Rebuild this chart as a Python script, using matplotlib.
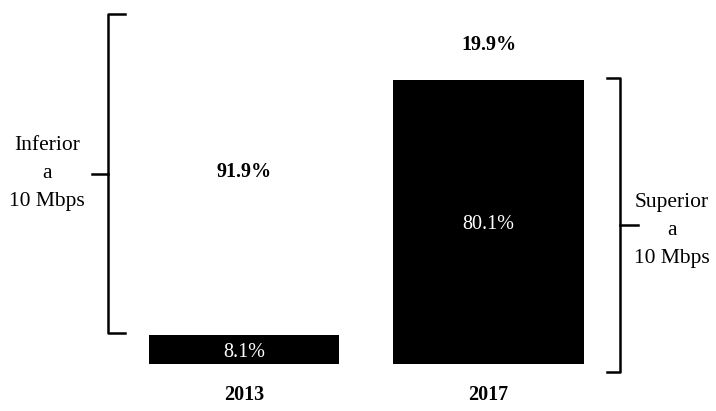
import matplotlib.pyplot as plt

years = ['2013', '2017']
superior = [8.1, 80.1]   # black part, > 10 Mbps
inferior = [91.9, 19.9]  # white part, < 10 Mbps

plt.rcParams['font.family'] = ['Liberation Serif', 'DejaVu Serif']

fig = plt.figure(figsize=(7.16, 4.11), dpi=100)
ax = fig.add_axes([0, 0, 1, 1])
ax.set_xlim(-0.998, 1.93)
ax.set_ylim(-13.25, 102.65)
ax.axis('off')

x = [0, 1]
w = 0.78
ax.bar(x, superior, width=w, color='black')
ax.bar(x, inferior, width=w, bottom=superior, color='white')

for i in range(2):
    ax.text(x[i], superior[i] / 2 - 0.8, f'{superior[i]}%', ha='center', va='center',
            color='white', fontsize=14.5)
    ax.text(x[i], superior[i] + inferior[i] / 2, f'{inferior[i]}%', ha='center',
            va='center', color='black', fontsize=14.5, fontweight='bold')
    ax.text(x[i], -8.6, years[i], ha='center', va='center', fontsize=14.5,
            fontweight='bold')


def brace(xv, y0, y1, arm, tip, ymid=None):
    if ymid is None:
        ymid = (y0 + y1) / 2
    ax.plot([xv + arm, xv, xv, xv + arm], [y1, y1, y0, y0], color='black',
            lw=1.8, solid_joinstyle='round')
    ax.plot([xv, xv + tip], [ymid, ymid], color='black', lw=1.8)


# left brace around the white part of 2013
brace(x[0] - w / 2 - 0.166, superior[0] + 0.6, 100 - 1.3, 0.07, -0.066)
ax.text(-0.806, 53.8, 'Inferior\na\n10 Mbps', ha='center', va='center',
        fontsize=15.5, linespacing=1.65)

# right brace around the black part of 2017
brace(x[1] + w / 2 + 0.148, -2.3, superior[1] + 0.6, -0.053, 0.073)
ax.text(1.75, 37.6, 'Superior\na\n10 Mbps', ha='center', va='center',
        fontsize=15.5, linespacing=1.65)

fig.savefig('out.png', dpi=100)
